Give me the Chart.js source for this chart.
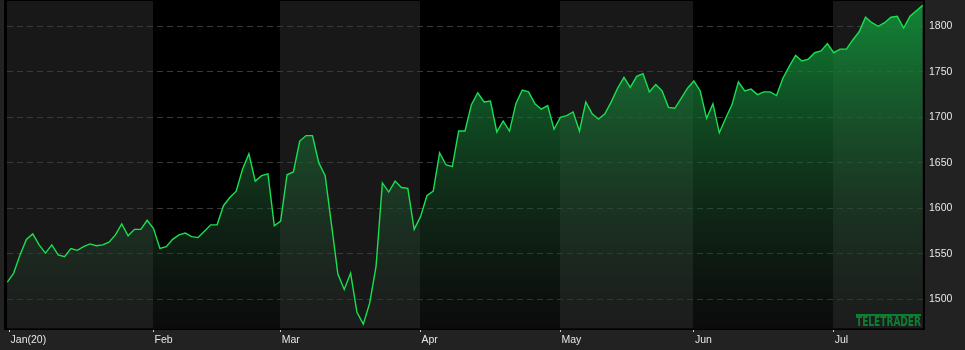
<!DOCTYPE html>
<html>
<head>
<meta charset="utf-8">
<script src="https://cdn.jsdelivr.net/npm/chart.js@4/dist/chart.umd.min.js"></script>
<style>
  html, body { margin: 0; padding: 0; background: #222222; }
  #wrap { width: 965px; height: 350px; position: relative; }
</style>
</head>
<body>
<div id="wrap"><canvas id="c" width="965" height="350"></canvas></div>
<script>
// Daily closing values (weekday index from early Jan 2020)
const values = [
  1519, 1529, 1549, 1566, 1572, 1560, 1551, 1560, 1549, 1547,
  1556, 1554, 1558, 1561, 1559, 1560, 1563, 1571, 1583, 1570,
  1577, 1577, 1587, 1578, 1556, 1558, 1566, 1571, 1573, 1569,
  1568, 1575, 1582, 1582, 1603, 1612, 1619, 1643, 1660, 1630,
  1636, 1638, 1581, 1586, 1637, 1640, 1674, 1680, 1680, 1650,
  1636, 1582, 1528, 1511, 1529, 1486, 1473, 1496, 1536, 1628,
  1618, 1630, 1623, 1622, 1577, 1591, 1614, 1619, 1661, 1648,
  1646, 1685, 1685, 1714, 1727, 1717, 1718, 1684, 1696, 1685,
  1715, 1730, 1728, 1715, 1709, 1713, 1687, 1700, 1702, 1706,
  1685, 1717, 1704, 1698, 1704, 1717, 1732, 1744, 1733, 1745,
  1748, 1728, 1736, 1729, 1711, 1710, 1721, 1732, 1740, 1729,
  1699, 1715, 1683, 1699, 1714, 1739, 1729, 1731, 1725, 1728,
  1728, 1724, 1743, 1756, 1768, 1762, 1764, 1771, 1773, 1781,
  1771, 1775, 1775, 1785, 1794, 1810, 1804, 1800, 1804, 1810,
  1811, 1798, 1811, 1817, 1823
];
const monthLabels = ['Jan(20)', 'Feb', 'Mar', 'Apr', 'May', 'Jun', 'Jul'];
const monthStartIndex = [0.35, 23, 43, 65, 87, 108, 130];
const yTickValues = [1500, 1550, 1600, 1650, 1700, 1750, 1800];

const points = values.map((v, i) => ({ x: i, y: v }));

const bgPlugin = {
  id: 'bgBands',
  beforeDraw(chart) {
    const { ctx, chartArea: a, scales } = chart;
    ctx.save();
    ctx.fillStyle = '#222222';
    ctx.fillRect(0, 0, chart.width, chart.height);
    ctx.fillStyle = '#000000';
    ctx.fillRect(a.left - 3, 0, a.right - a.left + 4, a.bottom + 1);
    ctx.fillStyle = '#181818';
    const xs = scales.x;
    const edges = monthStartIndex.map((m, i) => i === 0 ? a.left : Math.round(xs.getPixelForValue(m) - 0.5));
    edges.push(a.right);
    for (let i = 0; i < monthStartIndex.length; i += 2) {
      ctx.fillRect(edges[i], a.top, edges[i + 1] - edges[i], a.bottom - a.top);
    }
    ctx.restore();
  },
  afterDraw(chart) {
    const { ctx, chartArea: a } = chart;
    ctx.save();
    const x0 = a.right - 68, w = 65;
    ctx.fillStyle = '#0b8030';
    ctx.fillRect(x0, a.bottom - 15, w, 2);
    ctx.font = 'bold 14px "DejaVu Sans", sans-serif';
    ctx.textBaseline = 'alphabetic';
    const tw = ctx.measureText('TELETRADER').width;
    ctx.translate(x0, a.bottom - 3);
    ctx.scale(w / tw, 1);
    ctx.fillText('TELETRADER', 0, 0);
    ctx.restore();
  }
};

new Chart(document.getElementById('c'), {
  type: 'line',
  data: {
    datasets: [{
      data: points,
      borderColor: '#19e050',
      borderWidth: 1.4,
      pointRadius: 0,
      tension: 0,
      fill: 'start',
      backgroundColor(context) {
        const { chart } = context;
        const a = chart.chartArea;
        if (!a) return 'rgba(16,150,58,0.6)';
        const g = chart.ctx.createLinearGradient(0, a.top, 0, a.bottom);
        g.addColorStop(0, 'rgba(16,150,58,0.88)');
        g.addColorStop(1, 'rgba(36,36,36,0.3)');
        return g;
      }
    }]
  },
  options: {
    responsive: false,
    animation: false,
    events: [],
    layout: { padding: { left: 7, top: 1, right: 0, bottom: 0 } },
    plugins: { legend: { display: false }, tooltip: { enabled: false } },
    scales: {
      x: {
        type: 'linear',
        position: 'bottom',
        min: -0.05,
        max: 144.2,
        z: 1,
        afterBuildTicks(scale) {
          scale.ticks = monthStartIndex.map(v => ({ value: v }));
        },
        afterFit(scale) {
          scale.height = 21;
          scale.paddingLeft = 0; scale.paddingRight = 0;
          scale.paddingTop = 0; scale.paddingBottom = 0;
        },
        ticks: {
          autoSkip: false,
          maxRotation: 0,
          minRotation: 0,
          align: 'start',
          labelOffset: 1,
          padding: 2,
          color: '#e6e6e6',
          font: { family: '"Liberation Sans", Arial, sans-serif', size: 10.5 },
          callback(value, index) { return monthLabels[index]; }
        },
        grid: { display: true, drawOnChartArea: false, drawTicks: true, tickLength: 3, color: '#cccccc', tickWidth: 1 },
        border: { display: true, color: '#000000', width: 2 }
      },
      y: {
        type: 'linear',
        position: 'right',
        min: 1467.6,
        max: 1827.8,
        z: 1,
        afterBuildTicks(scale) {
          scale.ticks = yTickValues.map(v => ({ value: v }));
        },
        afterFit(scale) {
          scale.width = 41;
          scale.paddingTop = 0; scale.paddingBottom = 0;
          scale.paddingLeft = 0; scale.paddingRight = 0;
        },
        ticks: {
          padding: 5,
          color: '#e6e6e6',
          font: { family: '"Liberation Sans", Arial, sans-serif', size: 10.5 },
          callback(value) { return String(value); }
        },
        grid: { display: true, drawOnChartArea: true, drawTicks: false, color: '#3a3a3a', lineWidth: 1 },
        border: { display: true, color: '#000000', width: 2, dash: [6, 4] }
      }
    }
  },
  plugins: [bgPlugin]
});
</script>
</body>
</html>
